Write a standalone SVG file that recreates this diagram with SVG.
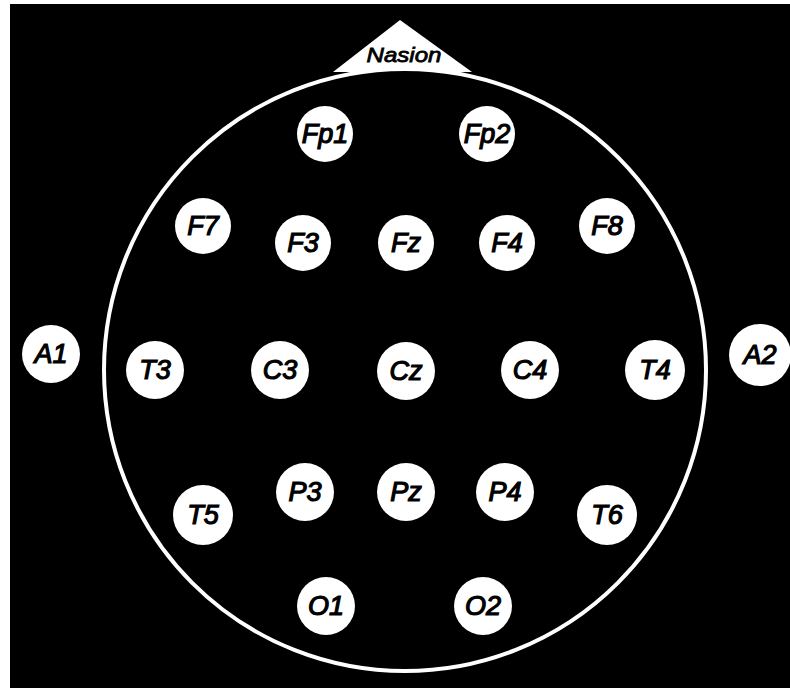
<svg xmlns="http://www.w3.org/2000/svg" width="790" height="688" viewBox="0 0 790 688">
<style>
.e{fill:#fff}
.t{font-family:"Liberation Sans",Arial,sans-serif;font-style:italic;font-weight:normal;font-size:27px;fill:#000;stroke:#000;stroke-width:1.2;text-anchor:middle;dominant-baseline:central}
</style>
<rect x="0" y="0" width="790" height="688" fill="#fff"/>
<rect x="10" y="4" width="780" height="684" fill="#000"/>
<g id="head">
<polygon points="400,20 333,72 472,72" fill="#fff"/>
<circle cx="405" cy="370" r="301" fill="#000" stroke="#fff" stroke-width="4"/>
</g>
<g id="nasion"><text x="404" y="54" class="t" style="font-size:21px;stroke-width:0.8" textLength="75" lengthAdjust="spacingAndGlyphs">Nasion</text></g>
<g id="Fp1"><circle class="e" cx="325" cy="134" r="28"/><text class="t" x="325" y="134">Fp1</text></g>
<g id="Fp2"><circle class="e" cx="487" cy="134" r="28"/><text class="t" x="487" y="134">Fp2</text></g>
<g id="F7"><circle class="e" cx="203" cy="226" r="28"/><text class="t" x="203" y="226">F7</text></g>
<g id="F3"><circle class="e" cx="303" cy="243" r="28"/><text class="t" x="303" y="243">F3</text></g>
<g id="Fz"><circle class="e" cx="406" cy="243" r="28"/><text class="t" x="406" y="243">Fz</text></g>
<g id="F4"><circle class="e" cx="507" cy="243" r="28"/><text class="t" x="507" y="243">F4</text></g>
<g id="F8"><circle class="e" cx="607" cy="226" r="28"/><text class="t" x="607" y="226">F8</text></g>
<g id="A1"><circle class="e" cx="51" cy="354" r="29"/><text class="t" x="51" y="354">A1</text></g>
<g id="T3"><circle class="e" cx="155" cy="370" r="29"/><text class="t" x="155" y="370">T3</text></g>
<g id="C3"><circle class="e" cx="280" cy="370" r="29"/><text class="t" x="280" y="370">C3</text></g>
<g id="Cz"><circle class="e" cx="406" cy="371" r="29"/><text class="t" x="406" y="371">Cz</text></g>
<g id="C4"><circle class="e" cx="530" cy="370" r="29"/><text class="t" x="530" y="370">C4</text></g>
<g id="T4"><circle class="e" cx="655" cy="370" r="30"/><text class="t" x="655" y="370">T4</text></g>
<g id="A2"><circle class="e" cx="760" cy="355" r="31"/><text class="t" x="760" y="355">A2</text></g>
<g id="T5"><circle class="e" cx="203" cy="515" r="30"/><text class="t" x="203" y="515">T5</text></g>
<g id="P3"><circle class="e" cx="305" cy="492" r="29"/><text class="t" x="305" y="492">P3</text></g>
<g id="Pz"><circle class="e" cx="406" cy="492" r="29"/><text class="t" x="406" y="492">Pz</text></g>
<g id="P4"><circle class="e" cx="505" cy="492" r="29"/><text class="t" x="505" y="492">P4</text></g>
<g id="T6"><circle class="e" cx="607" cy="515" r="30"/><text class="t" x="607" y="515">T6</text></g>
<g id="O1"><circle class="e" cx="326" cy="606" r="29"/><text class="t" x="326" y="606">O1</text></g>
<g id="O2"><circle class="e" cx="483" cy="606" r="29"/><text class="t" x="483" y="606">O2</text></g>
<g id="connectors"></g>
</svg>
